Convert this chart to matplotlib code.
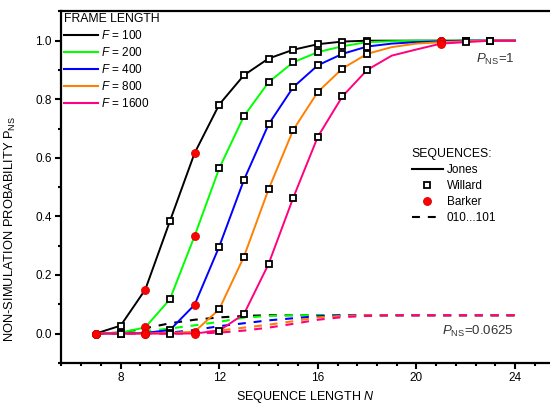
import matplotlib
matplotlib.use("Agg")
import matplotlib.pyplot as plt
from matplotlib.lines import Line2D
from matplotlib.ticker import MultipleLocator

plt.rcParams['font.family'] = ['Liberation Sans', 'DejaVu Sans']
plt.rcParams['mathtext.fontset'] = 'custom'
plt.rcParams['mathtext.rm'] = 'Liberation Sans'
plt.rcParams['mathtext.it'] = 'Liberation Sans:italic'

# sequence lengths for the Jones curves
N = list(range(7, 25))

frames = [100, 200, 400, 800, 1600]
colors = ['black', '#00ff00', '#0000ff', '#ff8000', '#ff0080']

# Jones sequences, P_NS per frame length
jones = {
    100: [0, 0.027, 0.15, 0.384, 0.616, 0.782, 0.882, 0.939, 0.969, 0.988, 0.997, 1.0, 1.0, 1.0, 1.0, 1.0, 1.0, 1.0],
    200: [0, 0.003, 0.021, 0.117, 0.333, 0.564, 0.742, 0.858, 0.926, 0.961, 0.981, 0.995, 0.998, 1.0, 1.0, 1.0, 1.0, 1.0],
    400: [0, 0, 0.002, 0.012, 0.098, 0.297, 0.524, 0.714, 0.841, 0.916, 0.955, 0.98, 0.99, 0.995, 0.998, 1.0, 1.0, 1.0],
    800: [0, 0, 0, 0.002, 0.006, 0.083, 0.262, 0.492, 0.695, 0.825, 0.905, 0.955, 0.978, 0.99, 0.995, 0.998, 1.0, 1.0],
    1600: [0, 0, 0, 0, 0, 0.01, 0.066, 0.237, 0.463, 0.672, 0.81, 0.90, 0.949, 0.97, 0.99, 0.995, 1.0, 1.0],
}

# 010...101 sequences
alt = {
    100: [0, 0.003, 0.018, 0.035, 0.047, 0.055, 0.06, 0.0625, 0.0625, 0.0625, 0.0625, 0.0625, 0.0625, 0.0625, 0.0625, 0.0625, 0.0625, 0.0625],
    200: [0, 0, 0.008, 0.017, 0.028, 0.04, 0.054, 0.06, 0.0625, 0.0625, 0.0625, 0.0625, 0.0625, 0.0625, 0.0625, 0.0625, 0.0625, 0.0625],
    400: [0, 0, 0, 0.003, 0.012, 0.025, 0.035, 0.045, 0.052, 0.059, 0.0625, 0.0625, 0.0625, 0.0625, 0.0625, 0.0625, 0.0625, 0.0625],
    800: [0, 0, 0, 0, 0.003, 0.01, 0.02, 0.03, 0.042, 0.055, 0.06, 0.0625, 0.0625, 0.0625, 0.0625, 0.0625, 0.0625, 0.0625],
    1600: [0, 0, 0, 0, 0, 0.003, 0.01, 0.02, 0.033, 0.047, 0.056, 0.06, 0.0625, 0.0625, 0.0625, 0.0625, 0.0625, 0.0625],
}

# lengths where Willard / Barker points are shown
willard_N = [8, 10, 12, 13, 14, 15, 16, 17, 18, 22, 23]
barker_N = [7, 9, 11, 21]

fig = plt.figure(figsize=(5.5, 4.11), dpi=100)
W, H = 550, 411
x0, x1 = 61, 549.5
y0, y1 = 362.8, 11.4
ax = fig.add_axes([x0 / W, 1 - y0 / H, (x1 - x0) / W, (y0 - y1) / H])

for f, c in zip(frames, colors):
    ax.plot(N, jones[f], color=c, lw=1.4, zorder=3)
for f, c in zip(frames, colors):
    ax.plot(N, alt[f], color=c, lw=1.5, dashes=(3.8, 3.8), zorder=2)
for f in frames:
    wy = [jones[f][N.index(n)] for n in willard_N]
    ax.plot(willard_N, wy, ls='none', marker='s', ms=4.0, mfc='white', mec='black', mew=1.3, zorder=4)
for f in frames:
    by = [jones[f][N.index(n)] for n in barker_N]
    ax.plot(barker_N, by, ls='none', marker='o', ms=5.8, mfc='red', mec='#cc0000', mew=0.5, zorder=5)

ax.set_xlim(5.58, 25.4)
ax.set_ylim(-0.1, 1.1)
ax.xaxis.set_major_locator(MultipleLocator(4))
ax.xaxis.set_minor_locator(MultipleLocator(0.8))
ax.yaxis.set_major_locator(MultipleLocator(0.2))
ax.yaxis.set_minor_locator(MultipleLocator(0.1))
ax.set_xticks([8, 12, 16, 20, 24])
ax.set_yticks([0, 0.2, 0.4, 0.6, 0.8, 1.0])
ax.set_yticklabels(['0.0', '0.2', '0.4', '0.6', '0.8', '1.0'])
ax.tick_params(which='major', direction='out', length=4.5, width=1.5, labelsize=8.5, pad=2)
ax.tick_params(which='minor', direction='out', length=2.5, width=1.5)
ax.tick_params(top=False, right=False)
for s in ['left', 'bottom', 'top']:
    ax.spines[s].set_linewidth(1.6)
ax.spines['right'].set_visible(False)

ax.set_xlabel('SEQUENCE LENGTH $N$', fontsize=9)
ax.set_ylabel(r'NON-SIMULATION PROBABILITY P$_{\rm NS}$', fontsize=9.3)
ax.yaxis.set_label_coords(-0.088, 0.38)
ax.xaxis.set_label_coords(0.5, -0.075)

ax.text(22.42, 0.923, r'$P_{\rm NS}$=1', fontsize=9.5, color='#333333', va='baseline')
ax.text(21.03, -0.005, r'$P_{\rm NS}$=0.0625', fontsize=9.5, color='#333333', va='baseline')

h1 = [Line2D([], [], color=c, lw=1.5) for c in colors]
l1 = ['$F$ = %d' % f for f in frames]
leg1 = ax.legend(h1, l1, title='FRAME LENGTH', loc='upper left',
                 bbox_to_anchor=(60 / W, 1 - 9 / H), bbox_transform=fig.transFigure,
                 frameon=False, fontsize=8.5, title_fontsize=8.8, handlelength=2.9,
                 handletextpad=0.25, labelspacing=0.35, borderpad=0.3, borderaxespad=0,
                 alignment='left')
ax.add_artist(leg1)

h2 = [Line2D([], [], color='black', lw=1.5),
      Line2D([], [], ls='none', marker='s', ms=4.0, mfc='white', mec='black', mew=1.3),
      Line2D([], [], ls='none', marker='o', ms=5.8, mfc='red', mec='#cc0000', mew=0.5),
      Line2D([], [], color='black', lw=1.5, dashes=(3.8, 3.8))]
l2 = ['Jones', 'Willard', 'Barker', '010...101']
ax.legend(h2, l2, title='SEQUENCES:', loc='upper left',
          bbox_to_anchor=(408 / W, 1 - 144 / H), bbox_transform=fig.transFigure,
          frameon=False, fontsize=8.5, title_fontsize=8.8, handlelength=2.7,
          handletextpad=0.3, labelspacing=0.35, borderpad=0.3, borderaxespad=0,
          alignment='left')

fig.savefig('out.png', dpi=100)
